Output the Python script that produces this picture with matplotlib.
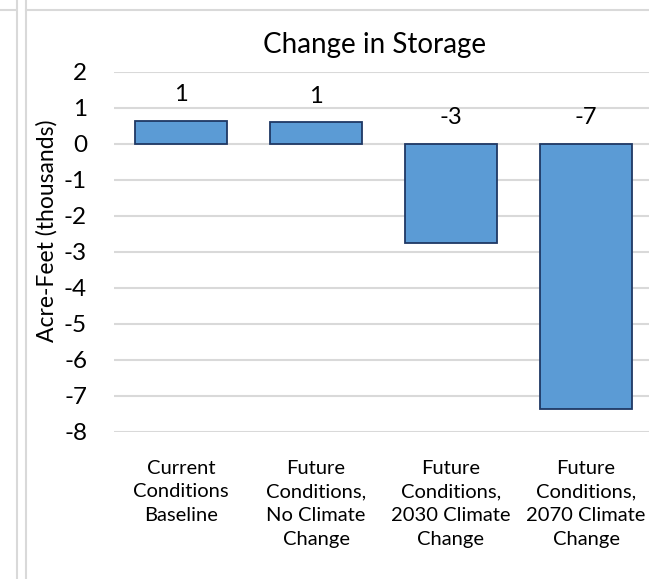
import matplotlib
matplotlib.use("Agg")
import matplotlib.pyplot as plt
from matplotlib.lines import Line2D

categories = ["Current\nConditions\nBaseline",
              "Future\nConditions,\nNo Climate\nChange",
              "Future\nConditions,\n2030 Climate\nChange",
              "Future\nConditions,\n2070 Climate\nChange"]
values = [0.64, 0.60, -2.75, -7.35]
labels = ["1", "1", "-3", "-7"]
yticks = [2, 1, 0, -1, -2, -3, -4, -5, -6, -7, -8]

plt.rcParams['font.family'] = ['Lato', 'DejaVu Sans']

W, H = 649, 579
fig = plt.figure(figsize=(W/100, H/100), dpi=100)

def fx(x): return x / W
def fy(y): return 1 - y / H

left, right = 113.5, 653.5
top, bottom = 72, 432
ax = fig.add_axes([fx(left), fy(bottom), (right-left)/W, (bottom-top)/H])

x = list(range(len(categories)))
ax.bar(x, values, width=0.68, color="#5b9bd5", edgecolor="#1f3864", linewidth=1.3, zorder=3)
ax.set_xlim(-0.5, len(categories)-0.5)
ax.set_ylim(-8, 2)
ax.set_yticks(yticks)
ax.set_yticklabels([str(t) for t in yticks], fontsize=17.5)
ax.yaxis.grid(True, color="#d9d9d9", linewidth=1.5, zorder=0)
ax.tick_params(axis='y', length=0, pad=19)
ax.tick_params(axis='x', length=0, pad=20)
ax.set_xticks(x)
ax.set_xticklabels(categories, fontsize=14.5, linespacing=1.47, va='top')
for s in ax.spines.values():
    s.set_visible(False)
ax.set_axisbelow(True)

for xi, v, lab in zip(x, values, labels):
    base = max(v, 0)
    ax.annotate(lab, (xi, base), xytext=(0, 19), textcoords="offset points",
                ha='center', va='center', fontsize=17, color="#000000")

fig.text(fx(375), fy(45), "Change in Storage", ha='center', va='center', fontsize=20)
fig.text(fx(47), fy(231), "Acre-Feet (thousands)", ha='center', va='center',
         rotation=90, fontsize=16.5)

# decorative borders from screenshot
gc = "#d9d9d9"
fig.add_artist(Line2D([fx(16.5), fx(16.5)], [0, 1], color=gc, lw=1.5))
fig.add_artist(Line2D([fx(25.5), fx(25.5)], [0, 1], color=gc, lw=1.5))
fig.add_artist(Line2D([0, fx(16)], [fy(10), fy(10)], color=gc, lw=1.5))
fig.add_artist(Line2D([fx(26), 1], [fy(10), fy(10)], color=gc, lw=1.5))

fig.savefig("out.png", dpi=100)
